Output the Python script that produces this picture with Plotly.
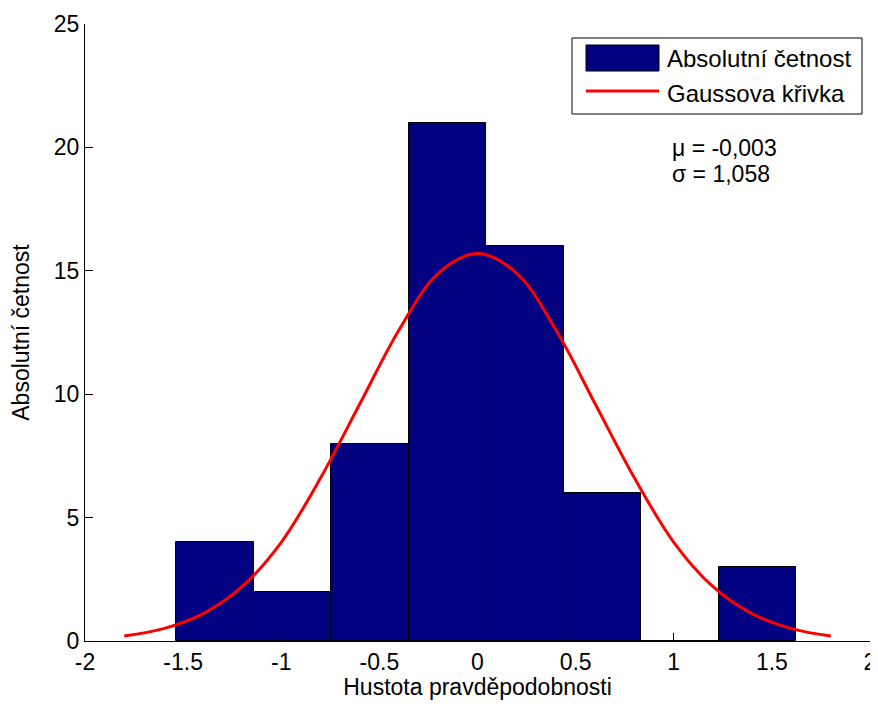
import plotly.graph_objects as go

# ---- data ----
bin_centers = [-1.338, -0.943, -0.548, -0.153, 0.241, 0.636, 1.031, 1.426]
bin_width = 0.395
counts = [4, 2, 8, 21, 16, 6, 0, 3]

curve_x = [-1.8, -1.6, -1.4, -1.2, -1.0, -0.8, -0.6, -0.4, -0.2, 0.0,
           0.2, 0.4, 0.6, 0.8, 1.0, 1.2, 1.4, 1.6, 1.8]
curve_y = [0.2, 0.5, 1.1, 2.2, 4.0, 6.6, 9.6, 12.6, 14.9, 15.7,
           14.9, 12.6, 9.6, 6.6, 4.0, 2.2, 1.1, 0.5, 0.2]

x_ticks = [-2, -1.5, -1, -0.5, 0, 0.5, 1, 1.5, 2]
x_tick_labels = ["-2", "-1.5", "-1", "-0.5", "0", "0.5", "1", "1.5", "2"]
y_ticks = [0, 5, 10, 15, 20, 25]

series_names = ["Absolutní četnost", "Gaussova křivka"]
stats_text = ["μ = -0,003", "σ = 1,058"]

# page body has an 8px margin; the figure is sized so it fits the window
OFF = 8
W, H = 878 - OFF, 708 - 2 * OFF
# plot area in window pixels: x 85..870, y 24..641
PL, PR, PT, PB = 85, 870, 24, 641
L, R, T, B = PL - OFF, (W + OFF) - PR, PT - OFF, (H + OFF) - PB
FONT = "Liberation Sans, Arial, sans-serif"
FS = 23
FS_LEG = 24

fig = go.Figure()
fig.add_trace(go.Bar(
    x=bin_centers, y=counts, width=bin_width,
    marker=dict(color="#000080", line=dict(color="black", width=1)),
    name=series_names[0], showlegend=False,
))
fig.add_trace(go.Scatter(
    x=curve_x, y=curve_y, mode="lines",
    line=dict(color="#ff0000", width=3, shape="spline", smoothing=1.0),
    name=series_names[1], showlegend=False,
))

# custom MATLAB-like legend (window pixels -> paper coords)
def px(x):
    return (x - PL) / (PR - PL)
def py(y):
    return 1 - (y - PT) / (PB - PT)

shapes = [
    dict(type="rect", xref="paper", yref="paper",
         x0=px(572), x1=px(862), y0=py(114), y1=py(38),
         line=dict(color="black", width=1), fillcolor="white", layer="above"),
    dict(type="rect", xref="paper", yref="paper",
         x0=px(586), x1=px(659), y0=py(71), y1=py(45),
         line=dict(color="black", width=1), fillcolor="#000080", layer="above"),
    dict(type="line", xref="paper", yref="paper",
         x0=px(586), x1=px(659), y0=py(91), y1=py(91),
         line=dict(color="#ff0000", width=3), layer="above"),
]
def label(x, y, text, size):
    return dict(xref="paper", yref="paper", x=px(x), y=py(y), text=text,
                showarrow=False, xanchor="left", yanchor="middle",
                font=dict(family=FONT, size=size, color="black"))

annotations = [
    label(665, 59, series_names[0], FS_LEG),
    label(665, 94, series_names[1], FS_LEG),
    label(670, 148, stats_text[0], FS),
    label(670, 174, stats_text[1], FS),
]

fig.update_layout(
    template="none",
    width=W, height=H,
    margin=dict(l=L, r=R, t=T, b=B, pad=0, autoexpand=False),
    paper_bgcolor="white", plot_bgcolor="white",
    font=dict(family=FONT, size=FS, color="black"),
    bargap=0, showlegend=False,
    shapes=shapes, annotations=annotations,
)
fig.update_xaxes(
    range=[-2, 2], tickvals=x_ticks, ticktext=x_tick_labels, automargin=False,
    ticklabeloverflow="allow",
    showgrid=False, zeroline=False, showline=True, linecolor="black", linewidth=1,
    ticks="inside", ticklen=8, tickcolor="black", tickwidth=1, mirror=False,
    title=dict(text="Hustota pravděpodobnosti", standoff=7,
               font=dict(family=FONT, size=FS)),
    tickfont=dict(family=FONT, size=FS),
)
fig.update_yaxes(
    range=[0, 25], tickvals=y_ticks, automargin=False,
    showgrid=False, zeroline=False, showline=True, linecolor="black", linewidth=1,
    ticks="inside", ticklen=8, tickcolor="black", tickwidth=1, mirror=False,
    title=dict(text="Absolutní četnost", standoff=19,
               font=dict(family=FONT, size=FS)),
    tickfont=dict(family=FONT, size=FS),
)

fig.write_html("out.html")
